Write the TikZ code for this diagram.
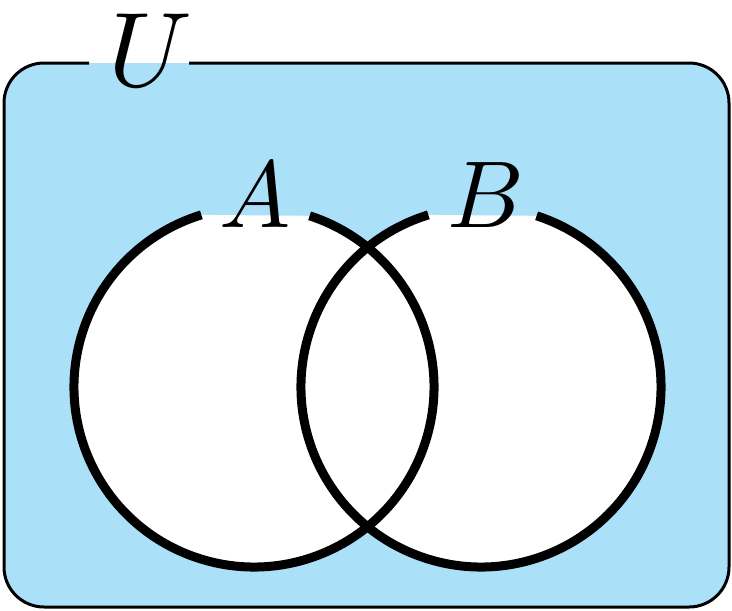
\documentclass[tikz,border=0pt]{standalone}
\definecolor{setblue}{RGB}{171,224,249}
\tikzset{
  setlabel/.style={anchor=base, inner sep=0pt},
}
\begin{document}
\begin{tikzpicture}[x=1pt,y=-1pt]
\useasboundingbox (0,0) rectangle (732,611);
% universe
\fill[setblue, rounded corners=40pt] (4,63) rectangle (729,607);
\draw[line width=3pt, rounded corners=40pt] (189,63) -- (729,63) -- (729,607) -- (4,607) -- (4,63) -- (89,63);
\node[setlabel, scale=10.6] (U) at (150,86) {$U$};
% circle centres
\coordinate (ca) at (254,387);
\coordinate (cb) at (481,387);
% white fills (arc closed by chord)
\fill[white] ([shift={(ca)}]-72:180) arc[start angle=-72, end angle=253, radius=180] -- cycle;
\fill[white] ([shift={(cb)}]-72:180) arc[start angle=-72, end angle=253, radius=180] -- cycle;
% strokes
\draw[line width=9pt] ([shift={(ca)}]-72:180) arc[start angle=-72, end angle=253, radius=180];
\draw[line width=9pt] ([shift={(cb)}]-72:180) arc[start angle=-72, end angle=253, radius=180];
\node[setlabel, scale=9.5] (A) at (255,227) {$A$};
\node[setlabel, scale=9.5] (B) at (486,227) {$B$};
\end{tikzpicture}
\end{document}
